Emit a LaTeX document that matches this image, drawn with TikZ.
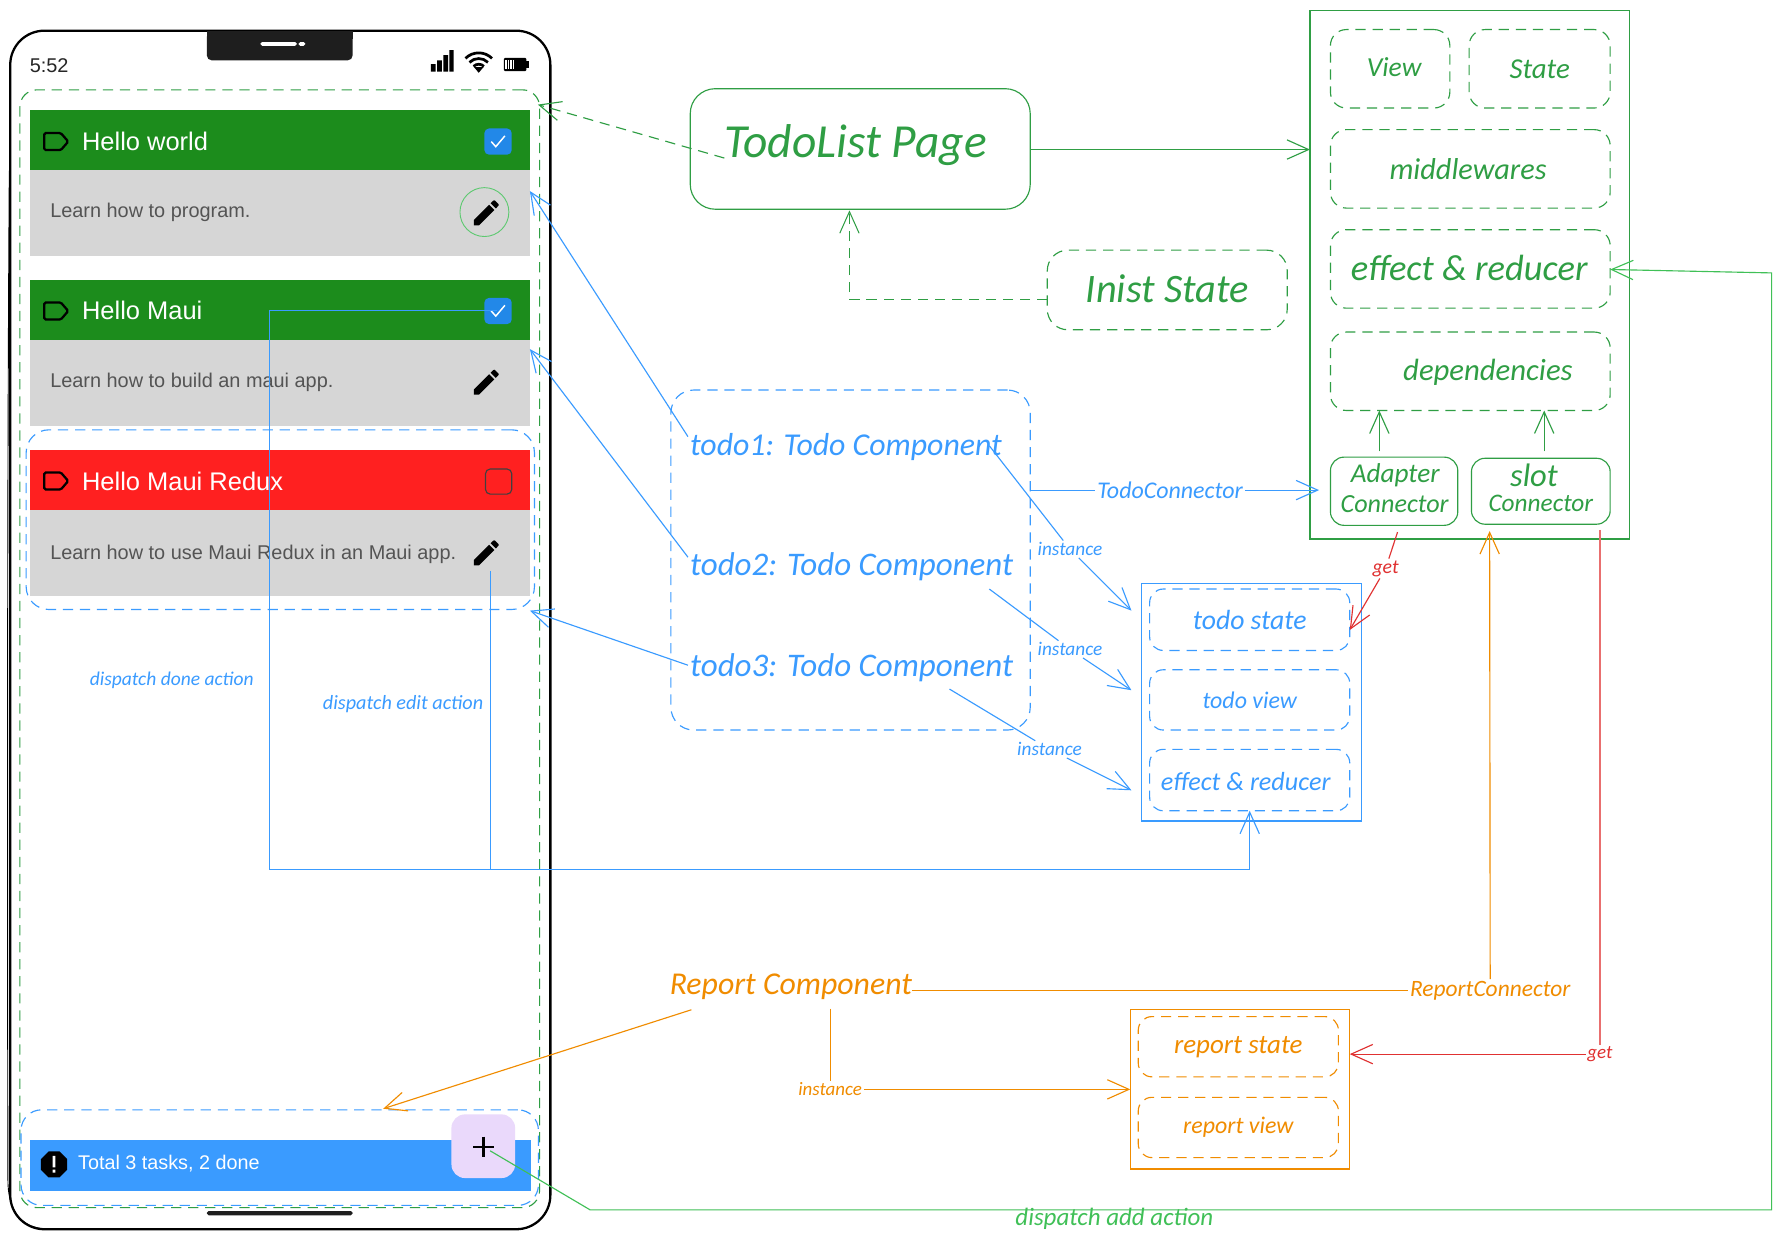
\documentclass[tikz,border=0pt]{standalone}
\usepackage{fontspec}
\usepackage{graphicx}
\setmainfont{Liberation Sans}
\newfontfamily\handfont{Carlito}
\usetikzlibrary{arrows.meta}
\definecolor{hgreen}{HTML}{2F9E44}
\definecolor{lgreen}{HTML}{40C057}
\definecolor{hblue}{HTML}{3A9BFF}
\definecolor{horange}{HTML}{F08C00}
\definecolor{hred}{HTML}{E03131}
\definecolor{cardgreen}{HTML}{1C8C1C}
\definecolor{cardred}{HTML}{FF2020}
\definecolor{cardgray}{HTML}{D6D6D6}
\definecolor{checkblue}{HTML}{2288E8}
\definecolor{notch}{HTML}{1E1E1E}
\definecolor{lilac}{HTML}{EAD9FB}
\newcommand{\hw}[2]{\resizebox{#1pt}{!}{\handfont\itshape #2}}
\tikzset{
  barb/.style={-{Straight Barb[length=19pt,width=17pt]}},
  dashstyle/.style={dash pattern=on 9pt off 6pt},
  sbox/.style={draw,inner sep=0pt,line width=1pt},
  rbox/.style={draw,inner sep=0pt,line width=1pt,rounded corners=#1},
  dbox/.style={draw,inner sep=0pt,line width=1pt,rounded corners=#1,dashstyle},
  lab/.style={inner sep=1.5pt},
  cardhead/.style={fill=#1,inner sep=0pt,minimum width=440pt,minimum height=53pt},
  cardbody/.style={fill=cardgray,inner sep=0pt,minimum width=440pt,minimum height=75.5pt},
  title/.style={text=white,font=\fontsize{22.4pt}{24pt}\selectfont,anchor=west,inner sep=0pt},
  desc/.style={text=black!67,font=\fontsize{17.5pt}{20pt}\selectfont,anchor=west,inner sep=0pt},
  check/.style={fill=checkblue,rounded corners=4pt,minimum width=24pt,minimum height=23pt,inner sep=0pt},
  tagicon/.pic={\draw[line width=2pt,rounded corners=1.2pt,black] (-10.5,-7.5)--(4,-7.5)--(10.5,0)--(4,7.5)--(-10.5,7.5)--cycle;},
  tick/.pic={\draw[white,line width=1.3pt] (-6,0)--(-2,4.5)--(6,-5);},
  pencilicon/.pic={\fill[black,shift={(-12,-12)},scale=1.22] (3,17.25)--(3,21)--(6.75,21)--(17.81,9.94)--(14.06,6.19)--cycle (15.13,5.12)--(17,3.3)--(17.7,3)--(18.4,3.3)--(20.7,5.6)--(21,6.3)--(20.7,7)--(18.88,8.87)--cycle;}
}
\begin{document}
\begin{tikzpicture}[x=1pt,y=-1pt]
\useasboundingbox (0,0) rectangle (1568,1091.3);
\fill[white] (0,0) rectangle (1568,1091.3);

% phone
\node[draw=black,line width=2pt,rounded corners=30pt,minimum width=475pt,minimum height=1054pt,inner sep=0pt] (phone) at (246.5,554) {};
\draw[black,line width=.8pt] (8.2,150) .. controls (6.4,400) and (6.4,800) .. (7,1040) .. controls (8,1070) and (22,1080) .. (42,1081);
\fill[notch,rounded corners=4pt] (182,28) rectangle (310,53);
\fill[notch] (182,27) rectangle (310,34);
\fill[white,rounded corners=1.5pt] (229,37) rectangle (261,40.3);
\fill[white,rounded corners=1.5pt] (262.5,37) rectangle (268.5,40.3);
\fill[notch,rounded corners=1.5pt] (182,1065) rectangle (310,1068.8);
\node[font=\fontsize{17.5pt}{20pt}\selectfont,anchor=west,inner sep=0pt,text=black!85] (clock) at (26,58) {5:52};
% status icons
\fill[black] (379,56.5) rectangle (383,63) (384.5,53) rectangle (388.5,63) (390,48.5) rectangle (394,63) (395.2,44) rectangle (399,63);
\foreach \r in {6.5,11.5,16.5}{\draw[black,line width=2.4pt] (421,63) ++(-135:\r) arc[start angle=-135,end angle=-45,radius=\r];}
\fill[black] (421,64)--(416.8,59)--(425.2,59)--cycle;
\fill[black,rounded corners=1pt] (443,51) rectangle (463,62.5);
\fill[black] (463,53.5) rectangle (465.3,60);
\fill[white] (444.5,52.5) rectangle (452,61);
\foreach \q in {446,448,450}{\fill[black] (\q,52.5) rectangle (\q+.8,61);}

% cards
\node[cardhead=cardgreen] (head1) at (246,123.5) {};
\node[cardbody] (body1) at (246,187.5) {};
\node[cardhead=cardgreen] (head2) at (246,272.5) {};
\node[cardbody] (body2) at (246,337) {};
\node[cardhead=cardred] (head3) at (246,422.5) {};
\node[cardbody] (body3) at (246,486.5) {};
\pic at (49.5,124.5) {tagicon};
\pic at (49.5,273.5) {tagicon};
\pic at (49.5,423) {tagicon};
\node[title] (t1) at (72,124) {Hello world};
\node[title] (t2) at (72,273) {Hello Maui};
\node[title] (t3) at (72,423) {Hello Maui Redux};
\node[desc] (d1) at (44,187) {Learn how to program.};
\node[desc] (d2) at (44,336.5) {Learn how to build an maui app.};
\node[desc] (d3) at (44,487.5) {Learn how to use Maui Redux in an Maui app.};
\node[check] (c1) at (438,124.5) {};
\node[check] (c2) at (438,273.5) {};
\pic at (438,124.5) {tick};
\pic at (438,273.5) {tick};
\node[draw=black!75,line width=1pt,rounded corners=4pt,minimum width=23pt,minimum height=22pt,inner sep=0pt] (c3) at (438.5,423.5) {};
\pic at (425,184.5) {pencilicon};
\pic at (425,333.5) {pencilicon};
\pic at (425,483.5) {pencilicon};
\node[draw=lgreen!85!white,line width=.8pt,circle,minimum size=43pt,inner sep=0pt] (focus) at (426,186.5) {};

% footer
\node[fill=hblue,inner sep=0pt,minimum width=441pt,minimum height=45pt] (bar) at (246.5,1025) {};
\fill[black] (42.8,1012.5)--(52.2,1012.5)--(59,1019.3)--(59,1028.7)--(52.2,1035.5)--(42.8,1035.5)--(36,1028.7)--(36,1019.3)--cycle;
\fill[white] (46.3,1016.5) rectangle (48.7,1026.5) (46.3,1028.5) rectangle (48.7,1031.3);
\node[text=white,font=\fontsize{17.4pt}{20pt}\selectfont,anchor=west,inner sep=0pt] (total) at (68.5,1023.5) {Total 3 tasks, 2 done};
\node[fill=lilac,rounded corners=12pt,minimum size=56pt,inner sep=0pt] (plus) at (425,1008) {};
\draw[black,line width=2.2pt] (416,1008.5)--(434,1008.5) (425,999.5)--(425,1017.5);

% dashed regions in the phone
\node[dbox=15pt,hgreen,minimum width=457pt,minimum height=983pt] (pagearea) at (246,570.5) {};
\node[dbox=20pt,hblue,minimum width=447pt,minimum height=158pt] (todoarea) at (246.5,457) {};
\node[dbox=18pt,hblue,minimum width=455pt,minimum height=84pt] (reportarea) at (246,1018) {};

\node[text=hblue,inner sep=0pt] (ldone) at (151,598) {\hw{144}{dispatch done action}};
\node[text=hblue,inner sep=0pt] (ledit) at (354.5,619) {\hw{141}{dispatch edit action}};

% todolist page
\node[rbox=22pt,hgreen,minimum width=299pt,minimum height=106pt] (page) at (756.5,131) {};
\node[text=hgreen,inner sep=0pt] (pagetext) at (752.5,128) {\hw{231}{TodoList Page}};
\node[dbox=18pt,hgreen,minimum width=211pt,minimum height=70pt] (inist) at (1026.5,255) {};
\node[text=hgreen,inner sep=0pt] (inisttext) at (1026.5,254) {\hw{143}{Inist State}};

% component box
\node[sbox,hgreen,minimum width=281pt,minimum height=465pt] (comp) at (1292.5,241.5) {};
\node[dbox=14pt,hgreen,minimum width=105pt,minimum height=69pt,text=hgreen] (view) at (1222.5,60.5) {};
\node[text=hgreen,inner sep=0pt] (viewtext) at (1226,59) {\hw{48}{View}};
\node[dbox=14pt,hgreen,minimum width=124pt,minimum height=69pt,text=hgreen] (state) at (1354,60.5) {\hw{53}{State}};
\node[dbox=14pt,hgreen,minimum width=246pt,minimum height=69pt] (mw) at (1293,148.5) {};
\node[text=hgreen,inner sep=0pt] (mwtext) at (1291,149) {\hw{138}{middlewares}};
\node[dbox=14pt,hgreen,minimum width=246pt,minimum height=69pt] (er) at (1293,236.5) {};
\node[text=hgreen,inner sep=0pt] (ertext) at (1292,236) {\hw{208}{effect \& reducer}};
\node[dbox=14pt,hgreen,minimum width=246pt,minimum height=69pt] (deps) at (1293,326.5) {};
\node[text=hgreen,inner sep=0pt] (depstext) at (1308.5,327) {\hw{149}{dependencies}};
\node[rbox=12pt,hgreen,minimum width=112pt,minimum height=60pt] (adapter) at (1226,432) {};
\node[text=hgreen,inner sep=0pt] (adaptertext1) at (1227,418) {\hw{78}{Adapter}};
\node[text=hgreen,inner sep=0pt] (adaptertext2) at (1226.5,443) {\hw{95}{Connector}};
\node[rbox=12pt,hgreen,minimum width=122pt,minimum height=58pt] (slot) at (1355,432) {};
\node[text=hgreen,inner sep=0pt] (slottext1) at (1349,418) {\hw{42}{slot}};
\node[text=hgreen,inner sep=0pt] (slottext2) at (1355,443) {\hw{92}{Connector}};

% todo group
\node[dbox=20pt,hblue,minimum width=316pt,minimum height=299pt] (group) at (748,492.5) {};
\node[text=hblue,inner sep=0pt] (todo1) at (744,393) {\hw{274}{todo1: Todo Component}};
\node[text=hblue,inner sep=0pt] (todo2) at (749,498) {\hw{284}{todo2: Todo Component}};
\node[text=hblue,inner sep=0pt] (todo3) at (749,587) {\hw{284}{todo3: Todo Component}};

% todo instance box
\node[sbox,hblue,minimum width=193pt,minimum height=209pt] (inst) at (1100.5,617.5) {};
\node[dbox=12pt,hblue,minimum width=176pt,minimum height=54pt,text=hblue] (tstate) at (1099,545) {\hw{100}{todo state}};
\node[dbox=12pt,hblue,minimum width=176pt,minimum height=53pt,text=hblue] (tview) at (1099,615.5) {\hw{83}{todo view}};
\node[dbox=12pt,hblue,minimum width=176pt,minimum height=54pt] (treducer) at (1099,686) {};
\node[text=hblue,inner sep=0pt] (treducertext) at (1095.5,687) {\hw{149}{effect \& reducer}};

% report
\node[text=horange,inner sep=0pt] (report) at (695.5,868) {\hw{213}{Report Component}};
\node[sbox,horange,minimum width=193pt,minimum height=140pt] (rbox) at (1090.5,958) {};
\node[dbox=12pt,horange,minimum width=176pt,minimum height=53pt,text=horange] (rstate) at (1089,920.5) {\hw{113}{report state}};
\node[dbox=12pt,horange,minimum width=176pt,minimum height=53pt,text=horange] (rview) at (1089,991.5) {\hw{97}{report view}};

% connector labels
\node[lab,text=hblue] (ltc) at (1029,431) {\hw{128}{TodoConnector}};
\node[lab,text=hblue] (li1) at (941,483) {\hw{57}{instance}};
\node[lab,text=hblue] (li2) at (941,571) {\hw{57}{instance}};
\node[lab,text=hblue] (li3) at (923,659) {\hw{57}{instance}};
\node[lab,text=hred] (lget1) at (1218.5,500) {\hw{23}{get}};
\node[lab,text=hred] (lget2) at (1407,927) {\hw{22}{get}};
\node[lab,text=horange] (lrc) at (1310.5,871) {\hw{141}{ReportConnector}};
\node[lab,text=horange] (li4) at (730,958) {\hw{56}{instance}};
\node[inner sep=0pt,text=lgreen] (ladd) at (980,1072) {\hw{174}{dispatch add action}};

% free ends
\coordinate (a1s) at (605,384);  \coordinate (a1e) at (466,168);
\coordinate (a2s) at (605,490);  \coordinate (a2e) at (466,307);
\coordinate (a3s) at (605,585);  \coordinate (a3e) at (466,537);
\coordinate (i1s) at (870,392);  \coordinate (i1e) at (995,537);
\coordinate (i2s) at (870,518);  \coordinate (i2e) at (995,607);
\coordinate (i3s) at (835,606);  \coordinate (i3e) at (995,695);
\coordinate (ps) at (637,139);   \coordinate (pe) at (473,92);
\coordinate (pg) at (906,131.5); \coordinate (cg) at (1152,131.5);
\coordinate (gs) at (906,431);   \coordinate (ge) at (1160,431);
\coordinate (ins) at (921,263);  \coordinate (inb) at (747,263); \coordinate (ine) at (747,185);
\coordinate (d1s) at (1213,397); \coordinate (d1e) at (1213,361);
\coordinate (d2s) at (1358,397); \coordinate (d2e) at (1358,361);
\coordinate (g1s) at (1229,468); \coordinate (g1e) at (1187,554);
\coordinate (g2s) at (1407,466); \coordinate (g2b) at (1407,927); \coordinate (g2e) at (1187,927);
\coordinate (rcs) at (802,871);  \coordinate (rce) at (1310,467);
\coordinate (ras) at (608,888);  \coordinate (rae) at (337,975);
\coordinate (ris) at (730,887);  \coordinate (rie) at (994,958);
\coordinate (dk) at (437,273);   \coordinate (dkb) at (237,273); \coordinate (dkc) at (237,765);
\coordinate (ek) at (431,502);   \coordinate (ekb) at (431,765);
\coordinate (dj) at (1099,765);  \coordinate (dje) at (1099,713);
\coordinate (as) at (431,1012);  \coordinate (ab) at (519,1064); \coordinate (ac) at (1558,1064); \coordinate (ad) at (1558,240); \coordinate (ae) at (1416,237);

% connectors
\draw[hblue,line width=1pt,barb] (a1s)--(a1e);
\draw[hblue,line width=1pt,barb] (a2s)--(a2e);
\draw[hblue,line width=1pt,barb] (a3s)--(a3e);
\draw[hblue,line width=1pt] (i1s)--(li1);
\draw[hblue,line width=1pt,barb] (li1)--(i1e);
\draw[hblue,line width=1pt] (i2s)--(li2);
\draw[hblue,line width=1pt,barb] (li2)--(i2e);
\draw[hblue,line width=1pt] (i3s)--(li3);
\draw[hblue,line width=1pt,barb] (li3)--(i3e);
\draw[hblue,line width=1pt] (gs)--(ltc);
\draw[hblue,line width=1pt,barb] (ltc)--(ge);
\draw[hblue,line width=1pt] (dk)--(dkb)--(dkc)--(dj);
\draw[hblue,line width=1pt,barb] (ek)--(ekb)--(dj)--(dje);
\draw[hgreen,line width=1pt,dashstyle,barb] (ps)--(pe);
\draw[hgreen,line width=1pt,barb] (pg)--(cg);
\draw[hgreen,line width=.9pt,dashstyle,barb] (ins)--(inb)--(ine);
\draw[hgreen,line width=1pt,barb] (d1s)--(d1e);
\draw[hgreen,line width=1pt,barb] (d2s)--(d2e);
\draw[hred,line width=1pt] (g1s)--(lget1);
\draw[hred,line width=1pt,barb] (lget1)--(g1e);
\draw[hred!70,line width=1pt] (g2s)--(lget2);
\draw[hred,line width=1pt,barb] (lget2)--(g2e);
\draw[horange,line width=1pt] (rcs)--(lrc);
\draw[horange,line width=1pt,barb] (lrc)--(rce);
\draw[horange,line width=1pt,barb] (ras)--(rae);
\draw[horange,line width=1pt] (ris)--(li4);
\draw[horange,line width=1pt,barb] (li4)--(rie);
\draw[lgreen,line width=1pt,barb] (as)--(ab)--(ac)--(ad)--(ae);
\end{tikzpicture}
\end{document}
